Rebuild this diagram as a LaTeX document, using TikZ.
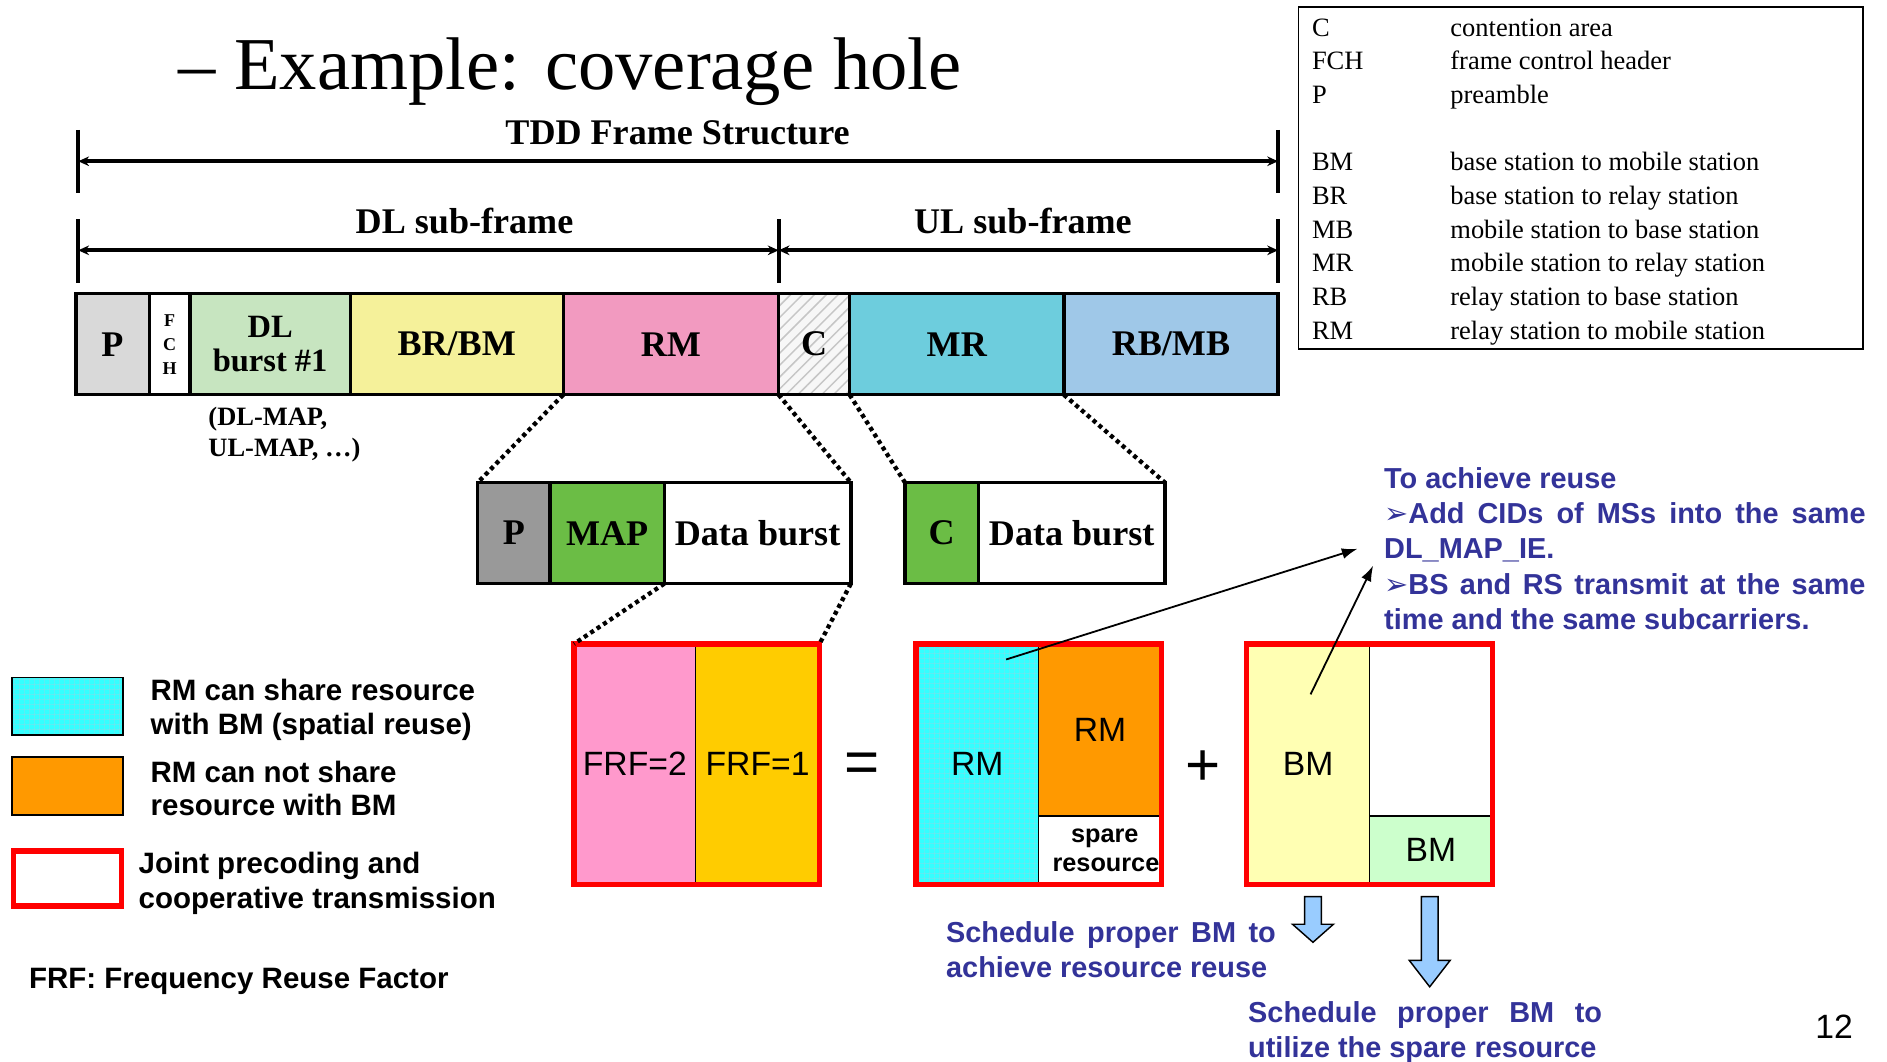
\documentclass[tikz,border=0pt]{standalone}
\usepackage{fontspec}
\setmainfont{Liberation Serif}
\setsansfont{Liberation Sans}
\newfontfamily\dejavu{DejaVu Sans}
\usetikzlibrary{arrows.meta,patterns.meta}
\definecolor{cP}{RGB}{217,217,217}
\definecolor{cDL}{RGB}{199,229,192}
\definecolor{cBR}{RGB}{245,241,154}
\definecolor{cRM}{RGB}{242,154,192}
\definecolor{cMR}{RGB}{109,205,221}
\definecolor{cRB}{RGB}{159,200,232}
\definecolor{cP2}{RGB}{153,153,153}
\definecolor{cMAP}{RGB}{107,189,69}
\definecolor{cPink}{RGB}{255,153,204}
\definecolor{cGold}{RGB}{255,204,0}
\definecolor{cCyan}{RGB}{51,255,255}
\definecolor{cGrid}{RGB}{120,225,235}
\definecolor{cOrange}{RGB}{255,153,0}
\definecolor{cYel}{RGB}{255,255,179}
\definecolor{cGrn}{RGB}{204,255,204}
\definecolor{cRed}{RGB}{255,0,0}
\definecolor{cBlue}{RGB}{51,51,153}
\definecolor{cArr}{RGB}{153,204,255}
\tikzset{
  cell/.style={draw=black, line width=2.8pt, inner sep=0pt, outer sep=0pt, anchor=north west,
    minimum height=84pt, font=\bfseries\fontsize{30}{30}\selectfont},
  blk/.style={draw=black, line width=1pt, inner sep=0pt, outer sep=0pt, anchor=north west,
    font=\sffamily\fontsize{28}{28}\selectfont},
  redframe/.style={draw=cRed, line width=4.5pt},
  dotline/.style={line width=3.6pt, dash pattern=on 3.4pt off 3pt},
  tick/.style={line width=3.5pt},
  dim/.style={line width=3.5pt, {Stealth[length=9pt,width=8pt]}-{Stealth[length=9pt,width=8pt]}},
  hdr/.style={font=\bfseries\fontsize{30}{30}\selectfont, inner sep=0pt},
  legtxt/.style={font=\fontsize{22}{22}\selectfont, anchor=base west, inner sep=0pt},
  sans/.style={font=\sffamily\bfseries\fontsize{24.5}{24.5}\selectfont, anchor=base west, inner sep=0pt},
  bluetxt/.style={font=\sffamily\bfseries\fontsize{24}{24}\selectfont, anchor=base west, inner sep=0pt, text=cBlue},
  thinarrow/.style={line width=1.5pt, -{Latex[length=13pt,width=9pt]}},
  blockarrow/.style={draw=black, line width=1.2pt, fill=cArr},
  cyangrid/.style={pattern={Hatch[angle=0,distance=4pt,line width=0.5pt]}, pattern color=cGrid},
}
\begin{document}
\begin{tikzpicture}[x=1pt,y=-1pt]
\useasboundingbox (0,0) rectangle (1568,882);
\fill[white] (0,0) rectangle (1568,882);

% title
\node[anchor=base west, inner sep=0pt, font=\fontsize{62}{62}\selectfont] (title) at (148,74) {– Example: coverage hole};

% dimension lines
\draw[tick] (65,108) -- (65,160);
\draw[tick] (1062,108) -- (1062,160);
\coordinate (tdL) at (65,134);
\coordinate (tdR) at (1062,134);
\draw[dim] (tdL) -- (tdR);
\node[hdr] (tdd) at (563,110) {TDD Frame Structure};

\draw[tick] (65,182) -- (65,235);
\draw[tick] (647,182) -- (647,235);
\draw[tick] (1062,182) -- (1062,235);
\coordinate (dlL) at (65,208);
\coordinate (dlR) at (647,208);
\coordinate (ulR) at (1062,208);
\draw[dim] (dlL) -- (dlR);
\draw[dim] (dlR) -- (ulR);
\node[hdr] (dlt) at (386,184) {DL sub-frame};
\node[hdr] (ult) at (850,184) {UL sub-frame};

% frame row
\node[cell, fill=cP, minimum width=61pt] (P) at (63,244) {P};
\node[cell, fill=white, minimum width=34pt, align=center, font=\bfseries\fontsize{15}{20}\selectfont] (FCH) at (124,244) {F\\C\\H};
\node[cell, fill=cDL, minimum width=133pt, align=center, font=\bfseries\fontsize{27}{28}\selectfont] (DL) at (158,244) {DL\\burst \#1};
\node[cell, fill=cBR, minimum width=177pt] (BR) at (291,244) {BR/BM};
\node[cell, fill=cRM, minimum width=179pt] (RM) at (468,244) {RM};
\node[cell, fill=gray!6, minimum width=59pt] (C) at (647,244) {};
\fill[pattern={Lines[angle=45,distance=7pt,line width=1.2pt]}, pattern color=gray!45] (C.north west) rectangle (C.south east);
\node[cell, minimum width=59pt] (Cx) at (647,244) {C};
\node[cell, fill=cMR, minimum width=178pt] (MR) at (706,244) {MR};
\node[cell, fill=cRB, minimum width=178pt] (RB) at (884,244) {RB/MB};

\node[anchor=north west, inner sep=0pt, align=left, font=\bfseries\fontsize{22}{26}\selectfont] (dlmap) at (173,338) {(DL-MAP,\\UL-MAP, …)};

% second row
\node[cell, fill=cP2, minimum width=60pt] (P2) at (397,401) {P};
\node[cell, fill=cMAP, minimum width=95pt] (MAP) at (457,401) {MAP};
\node[cell, fill=white, minimum width=155pt] (DB1) at (552,401) {Data burst};
\node[cell, fill=cMAP, minimum width=61pt] (C2) at (752,401) {C};
\node[cell, fill=white, minimum width=155pt] (DB2) at (813,401) {Data burst};

% dotted zoom lines
\draw[dotline] (RM.south west) -- (P2.north west);
\draw[dotline] (RM.south east) -- (DB1.north east);
\draw[dotline] (MR.south west) -- (C2.north west);
\draw[dotline] (MR.south east) -- (DB2.north east);

% FRF box
\node[blk, fill=cPink, minimum width=101pt, minimum height=200pt] (F2) at (477,535) {FRF=2};
\node[blk, fill=cGold, minimum width=103pt, minimum height=200pt] (F1) at (578,535) {FRF=1};
\draw[redframe] (F2.north west) rectangle (F1.south east);
\draw[dotline] (DB1.south west) -- (F2.north west);
\draw[dotline] (DB1.south east) -- (F1.north east);

\node[font=\sffamily\fontsize{50}{50}\selectfont, inner sep=0pt] (eq) at (716,638) {=};

% middle box
\node[blk, fill=cCyan, minimum width=102pt, minimum height=200pt] (Cy) at (761,535) {};
\fill[cyangrid] (Cy.north west) rectangle (Cy.south east);
\node[blk, draw=none, minimum width=102pt, minimum height=200pt] (CyT) at (761,535) {RM};
\node[blk, fill=cOrange, minimum width=102pt, minimum height=143pt] (Or) at (863,535) {RM};
\node[blk, fill=white, minimum width=102pt, minimum height=57pt, align=center, font=\sffamily\bfseries\fontsize{21}{24}\selectfont] (Sp) at (863,678) {\hspace*{8pt}spare\\\hspace*{10pt}resource};
\draw[redframe] (Cy.north west) rectangle (Sp.south east);

\node[font=\sffamily\fontsize{50}{50}\selectfont, inner sep=0pt] (plus) at (1000,638) {+};

% right box
\node[blk, fill=cYel, minimum width=102pt, minimum height=200pt] (Yb) at (1036,535) {BM};
\node[blk, fill=white, minimum width=102pt, minimum height=143pt] (Wt) at (1138,535) {};
\node[blk, fill=cGrn, minimum width=102pt, minimum height=57pt] (Gb) at (1138,678) {BM};
\draw[redframe] (Yb.north west) rectangle (Gb.south east);

% blue text top right
\node[bluetxt] (b1) at (1150,406) {To achieve reuse};
\node[bluetxt] (b2) at (1150,435) {\makebox[400pt][s]{{\dejavu ➢}Add CIDs of MSs into the same}};
\node[bluetxt] (b3) at (1150,464) {DL\_MAP\_IE.};
\node[bluetxt] (b4) at (1150,494) {\makebox[400pt][s]{{\dejavu ➢}BS and RS transmit at the same}};
\node[bluetxt] (b5) at (1150,523) {time and the same subcarriers.};

% pointer arrows
\coordinate (s1) at (836,548);
\coordinate (e1) at (1128,456);
\coordinate (s2) at (1089,577);
\coordinate (e2) at (1141,470);
\draw[thinarrow] (s1) -- (e1);
\draw[thinarrow] (s2) -- (e2);

% block arrows
\draw[blockarrow] (1084,745) -- (1098,745) -- (1098,768) -- (1108,768) -- (1091,783) -- (1074,768) -- (1084,768) -- cycle;
\draw[blockarrow] (1181,745) -- (1195,745) -- (1195,798) -- (1205,798) -- (1188,820) -- (1171,798) -- (1181,798) -- cycle;

% blue text bottom
\node[bluetxt] (s1a) at (786,783) {\makebox[274pt][s]{Schedule proper BM to}};
\node[bluetxt] (s1b) at (786,812) {achieve resource reuse};
\node[bluetxt] (s2a) at (1037,850) {\makebox[294pt][s]{Schedule proper BM to}};
\node[bluetxt] (s2b) at (1037,879) {utilize the spare resource};

% legend top right
\node[draw=black, line width=1.5pt, anchor=north west, minimum width=469pt, minimum height=284pt, inner sep=0pt, outer sep=0pt] (leg) at (1079,6) {};
\foreach \ab/\de/\yy in {C/contention area/30, FCH/frame control header/58, P/preamble/86,
  BM/base station to mobile station/142, BR/base station to relay station/170,
  MB/mobile station to base station/198, MR/mobile station to relay station/226,
  RB/relay station to base station/254, RM/relay station to mobile station/282}{
  \node[legtxt] at (1090,\yy) {\ab};
  \node[legtxt] at (1205,\yy) {\de};
}

% legend left
\node[draw=black, line width=1.5pt, fill=cCyan, anchor=north west, minimum width=92pt, minimum height=48pt, inner sep=0pt, outer sep=0pt] (L1) at (10,563) {};
\fill[cyangrid] (L1.north west) rectangle (L1.south east);
\draw[line width=1.5pt] (L1.north west) rectangle (L1.south east);
\node[draw=black, line width=1.5pt, fill=cOrange, anchor=north west, minimum width=92pt, minimum height=48pt, inner sep=0pt, outer sep=0pt] (L2) at (10,629) {};
\node[draw=cRed, line width=4.5pt, fill=white, anchor=north west, minimum width=90pt, minimum height=46pt, inner sep=0pt, outer sep=0pt] (L3) at (11,707) {};
\node[sans] (l1a) at (125,582) {RM can share resource};
\node[sans] (l1b) at (125,610) {with BM (spatial reuse)};
\node[sans] (l2a) at (125,650) {RM can not share};
\node[sans] (l2b) at (125,678) {resource with BM};
\node[sans] (l3a) at (115,726) {Joint precoding and};
\node[sans] (l3b) at (115,755) {cooperative transmission};
\node[sans] (frf) at (24,821) {FRF: Frequency Reuse Factor};

\node[font=\sffamily\fontsize{28}{28}\selectfont, inner sep=0pt] (pg) at (1524,853) {12};
\end{tikzpicture}
\end{document}
